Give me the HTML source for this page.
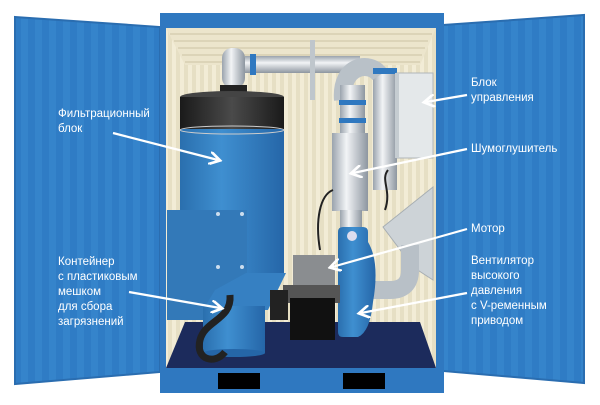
<!DOCTYPE html>
<html><head><meta charset="utf-8"><style>
html,body{margin:0;padding:0;background:#fff;width:600px;height:405px;overflow:hidden}
svg{display:block}
text{font-family:"Liberation Sans",sans-serif;font-size:11.5px;fill:#fff;font-weight:500}
</style></head><body>
<svg width="600" height="405" viewBox="0 0 600 405" xmlns="http://www.w3.org/2000/svg">
<defs>
<pattern id="stripes" width="14" height="10" patternUnits="userSpaceOnUse"><rect width="14" height="10" fill="#3584cb"/><rect width="7" height="10" fill="#2f7cc5"/></pattern>
<pattern id="wall" width="8" height="10" patternUnits="userSpaceOnUse"><rect width="8" height="10" fill="#f2ecd6"/><rect width="4" height="10" fill="#e6dfc4"/></pattern>
<linearGradient id="blue" x1="0" x2="1"><stop offset="0" stop-color="#2a6fae"/><stop offset="0.4" stop-color="#3f8fd0"/><stop offset="1" stop-color="#2566a8"/></linearGradient>
<linearGradient id="steel" x1="0" x2="1"><stop offset="0" stop-color="#9aa3ad"/><stop offset="0.4" stop-color="#f2f4f6"/><stop offset="1" stop-color="#8d96a0"/></linearGradient>
<linearGradient id="steelv" x1="0" x2="0" y1="0" y2="1"><stop offset="0" stop-color="#9aa3ad"/><stop offset="0.4" stop-color="#f2f4f6"/><stop offset="1" stop-color="#8d96a0"/></linearGradient>
<linearGradient id="dark" x1="0" x2="1"><stop offset="0" stop-color="#1a1a1a"/><stop offset="0.5" stop-color="#4a4a4a"/><stop offset="1" stop-color="#1a1a1a"/></linearGradient>
<marker id="ah" markerWidth="6" markerHeight="6" refX="4" refY="3" orient="auto" markerUnits="strokeWidth"><path d="M0,0 L5,3 L0,6" fill="none" stroke="#fff" stroke-width="1.2"/></marker>
</defs>
<polygon points="15,17 160,27 160,372 15,384" fill="url(#stripes)" stroke="#2a6db0" stroke-width="2"/>
<polygon points="443,25 584,15 584,383 443,371" fill="url(#stripes)" stroke="#2a6db0" stroke-width="2"/>
<rect x="160" y="13" width="284" height="380" fill="#2f78c0"/>
<rect x="166" y="28" width="270" height="340" fill="url(#wall)"/>
<polygon points="166,28 436,28 420,65 185,65" fill="#ece5cc"/>
<g stroke="#d6cfb2" stroke-width="1.5">
<line x1="170" y1="34" x2="432" y2="34"/><line x1="174" y1="41" x2="428" y2="41"/><line x1="178" y1="48" x2="425" y2="48"/><line x1="182" y1="55" x2="422" y2="55"/><line x1="185" y1="62" x2="420" y2="62"/></g>
<polygon points="185,322 420,322 436,368 166,368" fill="#1c2b5c"/>
<rect x="160" y="368" width="284" height="25" fill="#2f78c0"/>
<rect x="218" y="373" width="42" height="16" fill="#000"/>
<rect x="343" y="373" width="42" height="16" fill="#000"/>
<rect x="245" y="56" width="115" height="17" fill="url(#steelv)"/>
<rect x="250" y="54" width="6" height="21" fill="#2f78c0"/>
<rect x="310" y="40" width="5" height="60" fill="#bfc6cc"/>
<rect x="222" y="48" width="23" height="40" rx="10" fill="url(#steel)"/>
<rect x="220" y="85" width="27" height="10" fill="#222"/>
<ellipse cx="232" cy="97" rx="52" ry="6" fill="#444"/>
<rect x="180" y="97" width="104" height="32" fill="url(#dark)"/>
<rect x="180" y="129" width="104" height="145" fill="url(#blue)"/>
<ellipse cx="232" cy="130" rx="52" ry="4" fill="none" stroke="#ccc" stroke-width="1"/>
<rect x="167" y="210" width="80" height="110" fill="#3379b8"/>
<g fill="#cde"><circle cx="218" cy="214" r="2"/><circle cx="242" cy="214" r="2"/><circle cx="218" cy="267" r="2"/><circle cx="242" cy="267" r="2"/></g>
<polygon points="246,273 286,273 268,310 203,310 215,290" fill="#3680c2"/>
<rect x="203" y="306" width="62" height="47" fill="url(#blue)"/>
<ellipse cx="234" cy="353" rx="31" ry="4" fill="#2566a8"/>
<path d="M230,295 C232,320 205,320 200,340 C195,360 215,365 225,352" fill="none" stroke="#222" stroke-width="7"/>
<rect x="373" y="70" width="24" height="120" fill="url(#steel)"/>
<path d="M343,100 C340,65 370,60 380,75" fill="none" stroke="#b9c1c8" stroke-width="18"/>
<rect x="373" y="68" width="24" height="6" fill="#2f78c0"/>
<rect x="340" y="85" width="25" height="50" fill="url(#steel)"/>
<rect x="339" y="100" width="27" height="5" fill="#2f78c0"/>
<rect x="339" y="118" width="27" height="5" fill="#2f78c0"/>
<rect x="397" y="73" width="36" height="85" fill="#e4e8ea" stroke="#b0b6ba"/>
<rect x="395" y="73" width="4" height="85" fill="#c5ccd1"/>
<rect x="332" y="133" width="36" height="78" fill="url(#steel)"/>
<rect x="340" y="210" width="22" height="20" fill="url(#steel)"/>
<polygon points="383,227 433,187 433,280 413,267" fill="#cdd3d7" stroke="#a7aeb3"/>
<path d="M385,210 C392,190 380,180 388,170" fill="none" stroke="#222" stroke-width="2"/>
<path d="M320,250 C315,220 320,195 333,190" fill="none" stroke="#222" stroke-width="2"/>
<path d="M368,290 h22 q20,0 20,-20 v-25" fill="none" stroke="#b8c0c7" stroke-width="18"/>
<path d="M338,232 q0,-5 5,-5 h20 q5,0 5,5 v10 q12,20 5,60 q-3,30 -15,35 h-15 q-5,0 -5,-5 z" fill="url(#blue)"/>
<circle cx="352" cy="236" r="5" fill="#dde"/>
<rect x="293" y="255" width="42" height="30" fill="#8a8d90"/>
<rect x="283" y="285" width="57" height="18" fill="#555"/>
<rect x="290" y="298" width="45" height="42" fill="#111"/>
<rect x="270" y="290" width="18" height="30" fill="#222"/>
<g stroke="#fff" stroke-width="2.2" fill="none" marker-end="url(#ah)">
<line x1="113" y1="133" x2="218" y2="160"/>
<line x1="129" y1="292" x2="220" y2="308"/>
<line x1="467" y1="95" x2="426" y2="102"/>
<line x1="467" y1="149" x2="353" y2="173"/>
<line x1="467" y1="229" x2="332" y2="267"/>
<line x1="467" y1="293" x2="361" y2="313"/>
</g>
<text x="58" y="117">Фильтрационный</text>
<text x="58" y="132">блок</text>
<text x="58" y="265">Контейнер</text>
<text x="58" y="280">с пластиковым</text>
<text x="58" y="295">мешком</text>
<text x="58" y="310">для сбора</text>
<text x="58" y="325">загрязнений</text>
<text x="471" y="86">Блок</text>
<text x="471" y="101">управления</text>
<text x="471" y="152">Шумоглушитель</text>
<text x="471" y="232">Мотор</text>
<text x="471" y="264">Вентилятор</text>
<text x="471" y="279">высокого</text>
<text x="471" y="294">давления</text>
<text x="471" y="309">с V-ременным</text>
<text x="471" y="324">приводом</text>
</svg>
</body></html>
